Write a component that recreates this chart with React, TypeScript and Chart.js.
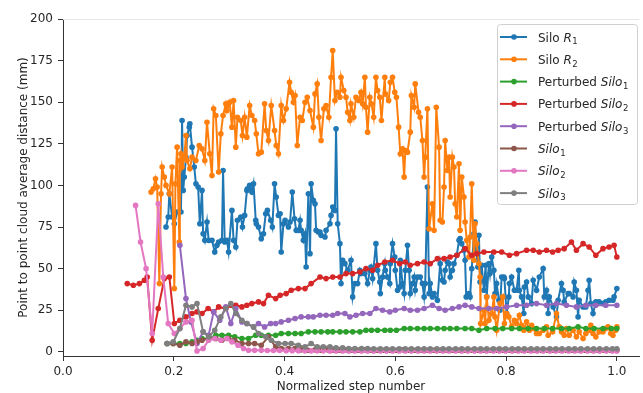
import React, { useEffect, useRef } from 'react';
import { Chart, registerables } from 'chart.js';

Chart.register(...registerables);

const FONT = '"DejaVu Sans", sans-serif';

const xTicks = [0, 0.2, 0.4, 0.6, 0.8, 1.0];
const yTicks = [0, 25, 50, 75, 100, 125, 150, 175, 200];

const seriesLabels = ['Silo R1', 'Silo R2', 'Perturbed Silo1', 'Perturbed Silo2', 'Perturbed Silo3', 'Silo1', 'Silo2', 'Silo3'];
const legendParts: [string, string, string][] = [
  ['Silo ', 'R', '1'],
  ['Silo ', 'R', '2'],
  ['Perturbed ', 'Silo', '1'],
  ['Perturbed ', 'Silo', '2'],
  ['Perturbed ', 'Silo', '3'],
  ['', 'Silo', '1'],
  ['', 'Silo', '2'],
  ['', 'Silo', '3'],
];
const seriesColors = ['#1f77b4', '#ff7f0e', '#2ca02c', '#d62728', '#9467bd', '#8c564b', '#e377c2', '#7f7f7f'];

// Silo R1 (blue)
const r1X = [0.186,0.190,0.192,0.197,0.201,0.206,0.213,0.215,0.217,0.219,0.222,0.224,0.228,0.229,0.233,0.237,0.240,0.244,0.247,0.251,0.253,0.256,0.260,0.263,0.269,0.274,0.278,0.281,0.287,0.289,0.292,0.296,0.299,0.305,0.308,0.312,0.315,0.321,0.324,0.328,0.332,0.333,0.337,0.341,0.344,0.348,0.349,0.353,0.358,0.362,0.366,0.369,0.375,0.378,0.382,0.385,0.389,0.392,0.394,0.398,0.401,0.407,0.410,0.414,0.418,0.421,0.425,0.428,0.430,0.434,0.437,0.439,0.443,0.446,0.448,0.452,0.455,0.457,0.461,0.464,0.466,0.473,0.475,0.482,0.484,0.487,0.491,0.493,0.496,0.500,0.502,0.505,0.509,0.514,0.520,0.523,0.527,0.532,0.536,0.538,0.545,0.550,0.554,0.556,0.559,0.565,0.568,0.572,0.573,0.577,0.581,0.582,0.586,0.590,0.591,0.595,0.599,0.600,0.604,0.608,0.609,0.613,0.616,0.618,0.622,0.625,0.627,0.631,0.634,0.636,0.640,0.645,0.649,0.652,0.654,0.658,0.661,0.663,0.667,0.670,0.676,0.681,0.685,0.688,0.690,0.694,0.697,0.699,0.703,0.706,0.711,0.715,0.717,0.720,0.724,0.726,0.728,0.733,0.735,0.738,0.742,0.744,0.746,0.749,0.751,0.753,0.756,0.760,0.763,0.765,0.769,0.771,0.774,0.778,0.780,0.783,0.787,0.789,0.792,0.796,0.797,0.801,0.805,0.806,0.810,0.815,0.819,0.823,0.824,0.828,0.832,0.833,0.837,0.840,0.846,0.849,0.855,0.860,0.867,0.869,0.873,0.876,0.878,0.885,0.891,0.894,0.900,0.903,0.905,0.912,0.914,0.921,0.923,0.927,0.930,0.932,0.939,0.944,0.948,0.950,0.953,0.957,0.962,0.968,0.975,0.980,0.986,0.993,0.995,1.000];
const r1Y = [75,81,95,81,77,84,84,139,97,105,117,130,135,137,123,111,101,99,77,97,71,67,78,67,67,60,64,66,67,109,66,67,60,85,67,63,79,81,75,82,97,98,100,96,101,79,77,75,68,71,83,85,79,75,101,93,82,83,60,77,79,75,78,96,80,73,73,79,73,67,71,51,95,59,101,91,89,73,72,72,70,69,73,77,82,87,85,134,77,65,41,55,53,49,55,33,41,41,49,47,47,41,49,51,44,65,49,42,35,45,53,49,45,41,53,65,57,49,37,39,55,41,35,49,64,49,35,41,45,37,45,45,41,33,41,99,35,41,33,35,31,53,43,42,49,54,53,45,49,53,58,67,68,65,61,55,33,35,33,50,71,78,61,51,70,42,52,37,52,33,53,47,57,49,35,41,31,25,45,45,44,23,33,41,45,37,37,49,37,33,23,39,42,33,29,43,37,45,50,33,37,23,33,27,21,31,41,37,30,35,35,33,42,37,21,31,27,27,37,43,29,23,30,30,29,30,31,31,33,38];

// Silo R2 (orange)
const r2X = [0.159,0.163,0.167,0.170,0.174,0.177,0.179,0.183,0.186,0.192,0.197,0.201,0.203,0.206,0.210,0.211,0.213,0.215,0.219,0.222,0.224,0.229,0.233,0.240,0.246,0.251,0.256,0.260,0.265,0.269,0.272,0.276,0.281,0.285,0.289,0.294,0.296,0.301,0.305,0.308,0.312,0.315,0.321,0.324,0.328,0.332,0.337,0.341,0.346,0.349,0.353,0.358,0.364,0.367,0.371,0.376,0.382,0.385,0.389,0.394,0.398,0.403,0.409,0.412,0.416,0.419,0.423,0.428,0.432,0.437,0.441,0.446,0.452,0.455,0.459,0.462,0.466,0.471,0.475,0.480,0.484,0.487,0.491,0.495,0.500,0.502,0.507,0.511,0.514,0.518,0.520,0.525,0.529,0.534,0.538,0.541,0.545,0.547,0.550,0.554,0.557,0.561,0.565,0.568,0.572,0.575,0.581,0.582,0.588,0.591,0.595,0.599,0.602,0.606,0.609,0.613,0.616,0.618,0.622,0.627,0.629,0.634,0.636,0.642,0.645,0.649,0.652,0.654,0.658,0.661,0.667,0.670,0.674,0.679,0.681,0.685,0.688,0.690,0.694,0.697,0.699,0.703,0.706,0.708,0.711,0.715,0.717,0.720,0.724,0.726,0.729,0.733,0.735,0.738,0.742,0.744,0.747,0.751,0.753,0.754,0.760,0.762,0.765,0.769,0.774,0.778,0.780,0.783,0.789,0.794,0.797,0.801,0.805,0.810,0.815,0.819,0.824,0.828,0.832,0.837,0.842,0.846,0.849,0.855,0.860,0.867,0.873,0.876,0.884,0.891,0.896,0.900,0.905,0.909,0.914,0.921,0.927,0.932,0.939,0.944,0.950,0.953,0.957,0.962,0.968,0.975,0.980,0.984,0.989,0.993,0.998,1.000];
const r2Y = [96,98,104,99,41,95,111,105,100,95,111,38,101,123,66,115,119,111,117,130,115,110,117,115,124,122,115,138,119,106,146,142,108,131,142,149,145,150,135,151,123,141,139,130,141,129,148,142,139,131,119,120,149,133,127,148,133,124,119,148,139,146,162,156,150,154,124,141,139,150,153,145,135,155,161,141,127,146,148,141,165,181,151,156,153,165,157,153,144,139,149,141,153,151,156,149,165,147,132,153,149,141,165,157,153,139,165,155,151,162,165,156,153,135,119,122,105,121,120,132,154,147,161,144,141,127,105,117,146,74,89,73,147,123,79,78,99,127,109,117,93,117,111,89,81,113,73,105,93,78,67,57,69,101,55,77,65,53,45,17,25,17,33,19,23,33,21,13,29,33,17,23,21,15,19,17,22,16,13,18,13,16,14,11,11,13,15,10,12,23,15,12,10,14,10,13,9,12,8,11,13,16,11,9,12,12,14,15,11,10,13,15];

// Perturbed Silo1 (green)
const p1X = [0.188,0.199,0.211,0.222,0.233,0.242,0.251,0.263,0.276,0.287,0.299,0.310,0.323,0.335,0.348,0.358,0.371,0.384,0.394,0.407,0.419,0.430,0.443,0.455,0.466,0.478,0.487,0.500,0.511,0.523,0.536,0.547,0.557,0.568,0.581,0.591,0.602,0.616,0.627,0.640,0.652,0.663,0.676,0.688,0.699,0.711,0.726,0.738,0.751,0.765,0.780,0.794,0.810,0.824,0.840,0.855,0.869,0.884,0.900,0.914,0.930,0.944,0.959,0.975,0.990,1.000];
const p1Y = [5,5,5,5,6,7,8,8,10,10,10,9,8,8,10,10,10,10,11,11,11,11,12,12,12,12,12,12,12,12,12,13,13,13,13,13,13,14,14,14,14,14,14,14,14,14,14,14,13,14,14,14,14,14,14,14,14,14,14,14,15,14,14,14,14,14];

// Perturbed Silo2 (red)
const p2X = [0.116,0.127,0.138,0.147,0.152,0.161,0.172,0.183,0.192,0.201,0.211,0.222,0.233,0.242,0.251,0.262,0.272,0.281,0.294,0.303,0.312,0.323,0.332,0.341,0.353,0.362,0.371,0.384,0.392,0.403,0.412,0.425,0.437,0.448,0.464,0.475,0.487,0.500,0.511,0.523,0.536,0.547,0.559,0.568,0.581,0.595,0.608,0.618,0.627,0.640,0.652,0.663,0.676,0.688,0.699,0.711,0.726,0.738,0.747,0.760,0.778,0.792,0.806,0.819,0.837,0.849,0.860,0.873,0.884,0.894,0.905,0.918,0.927,0.939,0.950,0.962,0.975,0.986,0.995,1.000];
const p2Y = [41,40,41,43,45,7,26,44,45,17,19,21,23,24,23,26,24,27,26,28,28,27,28,29,30,29,34,32,34,35,37,38,38,41,45,44,45,45,47,47,48,50,49,52,54,55,53,54,52,53,54,53,56,56,57,58,62,58,59,60,60,60,58,59,61,61,60,61,60,61,62,66,61,65,63,58,62,63,64,57];

// Perturbed Silo3 (purple)
const p3X = [0.211,0.222,0.231,0.242,0.253,0.263,0.272,0.283,0.294,0.303,0.312,0.323,0.332,0.344,0.353,0.364,0.375,0.384,0.394,0.407,0.419,0.430,0.443,0.452,0.464,0.475,0.487,0.496,0.509,0.518,0.529,0.541,0.554,0.565,0.577,0.590,0.600,0.616,0.627,0.640,0.652,0.667,0.679,0.690,0.703,0.715,0.726,0.738,0.751,0.769,0.783,0.801,0.819,0.837,0.855,0.873,0.891,0.909,0.927,0.944,0.962,0.980,1.000];
const p3Y = [64,32,18,5,12,10,24,19,27,17,26,18,17,15,17,15,17,17,18,19,20,21,21,21,22,22,22,23,23,21,22,23,23,26,25,24,25,26,25,25,26,28,26,25,26,27,28,27,26,26,26,27,28,28,29,28,29,28,27,28,28,28,28];

// Silo1 (brown)
const s1X = [0.188,0.199,0.211,0.222,0.233,0.242,0.251,0.263,0.276,0.287,0.299,0.310,0.323,0.335,0.346,0.358,0.371,0.384,0.394,0.407,0.419,0.430,0.443,0.455,0.466,0.478,0.489,0.500,0.511,0.523,0.534,0.545,0.557,0.568,0.580,0.591,0.602,0.614,0.625,0.636,0.648,0.659,0.670,0.682,0.693,0.704,0.716,0.727,0.739,0.750,0.761,0.773,0.784,0.795,0.807,0.818,0.830,0.841,0.852,0.864,0.875,0.886,0.898,0.909,0.920,0.932,0.943,0.955,0.966,0.977,0.989,1.000];
const s1Y = [5,5,4,6,5,6,7,8,8,7,8,7,5,5,5,4,9,3,2,2,2,1.2,1,1.2,1,1.2,1,1,1.2,1,1,1.2,1,1,1,1,1,1.2,1,1,1,1,1,1,1,1,1,1,1,1,1,1,1,1,1,1,1,1,1,1,1,1,1,1,1,1,1,1,1,1,1,1];

// Silo2 (pink)
const s2X = [0.131,0.140,0.150,0.161,0.172,0.181,0.190,0.201,0.211,0.222,0.233,0.242,0.253,0.263,0.274,0.285,0.296,0.305,0.316,0.326,0.335,0.346,0.358,0.369,0.380,0.391,0.403,0.414,0.425,0.437,0.448,0.459,0.470,0.482,0.493,0.505,0.516,0.527,0.539,0.550,0.561,0.573,0.584,0.595,0.607,0.618,0.629,0.641,0.652,0.663,0.675,0.686,0.697,0.709,0.720,0.731,0.743,0.754,0.765,0.777,0.788,0.799,0.811,0.822,0.833,0.845,0.856,0.867,0.879,0.890,0.901,0.913,0.924,0.935,0.947,0.958,0.969,0.981,0.992,1.000];
const s2Y = [88,66,50,11,89,45,17,11,14,18,19,0.5,2,7,8,7,8,6,4,2,1,1,1,0.8,0.8,0.8,0.7,0.7,0.7,0.6,0.6,0.6,0.6,0.5,0.5,0.5,0.5,0.5,0.5,0.5,0.5,0.5,0.5,0.5,0.5,0.5,0.5,0.5,0.5,0.5,0.5,0.5,0.5,0.5,0.5,0.5,0.5,0.5,0.5,0.5,0.5,0.5,0.5,0.5,0.5,0.5,0.5,0.5,0.5,0.5,0.5,0.5,0.5,0.5,0.5,0.5,0.5,0.5,0.5,0.5];

// Silo3 (gray)
const s3X = [0.188,0.199,0.211,0.222,0.233,0.242,0.253,0.263,0.274,0.285,0.294,0.303,0.312,0.323,0.332,0.344,0.353,0.366,0.376,0.389,0.401,0.412,0.425,0.437,0.448,0.459,0.470,0.482,0.493,0.505,0.516,0.527,0.539,0.550,0.561,0.573,0.584,0.595,0.607,0.618,0.629,0.641,0.652,0.663,0.675,0.686,0.697,0.709,0.720,0.731,0.743,0.754,0.765,0.777,0.788,0.799,0.811,0.822,0.833,0.845,0.856,0.867,0.879,0.890,0.901,0.913,0.924,0.935,0.947,0.958,0.969,0.981,0.992,1.000];
const s3Y = [5,6,14,28,27,29,12,9,13,21,26,29,23,19,17,15,11,9,7,5,5,5,4,3,5,3,3,3,2.5,2.5,2,2,2,2,1.8,1.8,1.8,1.8,1.8,1.8,1.8,1.8,1.8,1.8,1.8,1.8,1.8,1.8,1.8,1.8,1.8,1.8,1.8,1.8,1.8,1.8,1.8,1.8,1.8,1.8,1.8,1.8,1.8,1.8,1.8,1.8,1.8,1.8,1.8,1.8,1.8,1.8,1.8,1.8];

const seriesX = [r1X, r2X, p1X, p2X, p3X, s1X, s2X, s3X];
const seriesY = [r1Y, r2Y, p1Y, p2Y, p3Y, s1Y, s2Y, s3Y];

const mplLegend = {
  id: 'mplLegend',
  afterDraw(chart: any) {
    const ctx = chart.ctx as CanvasRenderingContext2D;
    ctx.save();
    const x0 = 497.5, y0 = 24.5, w = 140, h = 180, r = 3;
    ctx.beginPath();
    ctx.moveTo(x0 + r, y0);
    ctx.lineTo(x0 + w - r, y0);
    ctx.arcTo(x0 + w, y0, x0 + w, y0 + r, r);
    ctx.lineTo(x0 + w, y0 + h - r);
    ctx.arcTo(x0 + w, y0 + h, x0 + w - r, y0 + h, r);
    ctx.lineTo(x0 + r, y0 + h);
    ctx.arcTo(x0, y0 + h, x0, y0 + h - r, r);
    ctx.lineTo(x0, y0 + r);
    ctx.arcTo(x0, y0, x0 + r, y0, r);
    ctx.closePath();
    ctx.fillStyle = 'rgba(255,255,255,0.8)';
    ctx.fill();
    ctx.strokeStyle = '#d0d0d0';
    ctx.lineWidth = 1;
    ctx.stroke();

    legendParts.forEach((parts, i) => {
      const cy = 37 + i * 22.3;
      const col = seriesColors[i];
      ctx.strokeStyle = col;
      ctx.lineWidth = 2;
      ctx.beginPath();
      ctx.moveTo(500, cy);
      ctx.lineTo(527, cy);
      ctx.stroke();
      ctx.fillStyle = col;
      ctx.beginPath();
      ctx.arc(514, cy, 2.8, 0, Math.PI * 2);
      ctx.fill();

      const base = cy + 4.5;
      let x = 538;
      ctx.fillStyle = '#262626';
      ctx.textBaseline = 'alphabetic';
      ctx.textAlign = 'left';
      if (parts[0]) {
        ctx.font = `12px ${FONT}`;
        ctx.fillText(parts[0], x, base);
        x += ctx.measureText(parts[0]).width;
      }
      ctx.font = `italic 12px ${FONT}`;
      ctx.fillText(parts[1], x, base);
      x += ctx.measureText(parts[1]).width;
      ctx.font = `8.5px ${FONT}`;
      ctx.fillText(parts[2], x + 0.5, base + 2.8);
    });
    ctx.restore();
  },
};

const topSpine = {
  id: 'topSpine',
  afterDraw(chart: any) {
    const { ctx, chartArea } = chart;
    ctx.save();
    ctx.strokeStyle = '#e6e6e6';
    ctx.lineWidth = 1;
    ctx.beginPath();
    ctx.moveTo(chartArea.left, chartArea.top + 0.5);
    ctx.lineTo(chartArea.right, chartArea.top + 0.5);
    ctx.stroke();
    ctx.restore();
  },
};

export default function App() {
  const ref = useRef<HTMLCanvasElement>(null);
  useEffect(() => {
    if (!ref.current) return;
    const datasets = seriesLabels.map((label, i) => ({
      label,
      data: seriesX[i].map((x, k) => ({ x, y: seriesY[i][k] })),
      borderColor: seriesColors[i],
      backgroundColor: seriesColors[i],
      pointBackgroundColor: seriesColors[i],
      pointBorderWidth: 0,
      pointRadius: 2.8,
      borderWidth: 2,
      fill: false,
      tension: 0,
      order: 7 - i,
    }));
    const chart = new Chart(ref.current, {
      type: 'line',
      data: { datasets },
      options: {
        responsive: false,
        animation: false,
        events: [],
        layout: { padding: { left: 0, right: 0, top: 19, bottom: 0 } },
        plugins: { legend: { display: false }, tooltip: { enabled: false } },
        scales: {
          x: {
            type: 'linear',
            min: 0,
            max: 1.04,
            afterBuildTicks: (s: any) => { s.ticks = xTicks.map((v) => ({ value: v })); },
            afterFit: (s: any) => { s.height = 37; s.paddingLeft = 0; s.paddingRight = 0; },
            grid: { display: true, drawOnChartArea: false, drawTicks: true, tickLength: 5, tickWidth: 1, tickColor: '#333' },
            border: { display: true, color: '#333', width: 1 },
            ticks: {
              color: '#262626', font: { size: 12, family: FONT }, padding: 4, maxRotation: 0, autoSkip: false,
              callback: (v: any) => Number(v).toFixed(1),
            },
            title: { display: true, text: 'Normalized step number', color: '#262626', font: { size: 12, family: FONT }, padding: { top: 0, bottom: -1 } },
          },
          y: {
            type: 'linear',
            min: -2.5,
            max: 200,
            afterBuildTicks: (s: any) => { s.ticks = yTicks.map((v) => ({ value: v })); },
            afterFit: (s: any) => { s.width = 63; s.paddingTop = 0; s.paddingBottom = 0; },
            grid: { display: true, drawOnChartArea: false, drawTicks: true, tickLength: 5, tickWidth: 1, tickColor: '#333' },
            border: { display: true, color: '#333', width: 1 },
            ticks: { color: '#262626', font: { size: 12, family: FONT }, padding: 5, autoSkip: false, callback: (v: any) => String(v) },
            title: { display: true, text: 'Point to point cloud average distance (mm)', color: '#262626', font: { size: 12, family: FONT }, padding: { top: 17, bottom: 0 } },
          },
        },
      },
      plugins: [topSpine, mplLegend],
    });
    return () => chart.destroy();
  }, []);
  return (
    <div style={{ position: 'fixed', left: 0, top: 0, width: 643, height: 393, background: '#fff' }}>
      <canvas ref={ref} width={643} height={393} style={{ display: 'block', width: 643, height: 393 }} />
    </div>
  );
}
